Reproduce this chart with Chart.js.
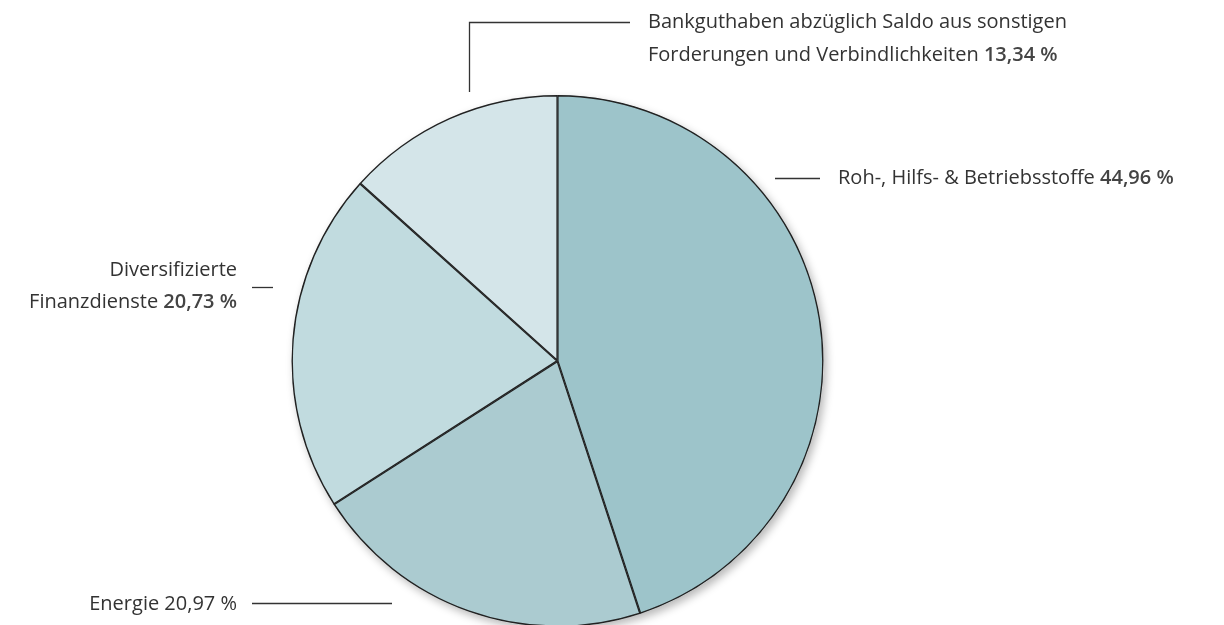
<!DOCTYPE html>
<html>
<head>
<meta charset="utf-8">
<script src="https://cdn.jsdelivr.net/npm/chart.js@4"></script>
<style>
  html, body { margin: 0; padding: 0; background: #fff; overflow: hidden; }
  #wrap { position: relative; width: 1224px; height: 700px; }
</style>
</head>
<body>
<div id="wrap"><canvas id="c" width="1224" height="700"></canvas></div>
<script>
const categories = [
  "Roh-, Hilfs- & Betriebsstoffe",
  "Energie",
  "Diversifizierte Finanzdienste",
  "Bankguthaben abzüglich Saldo aus sonstigen Forderungen und Verbindlichkeiten"
];
const shares = [44.96, 20.97, 20.73, 13.34];
const valueLabels = ["44,96 %", "20,97 %", "20,73 %", "13,34 %"];
const colors = ["#9dc4ca", "#abcbd0", "#c1dbdf", "#d4e5e9"];

const FONT = '"Open Sans", sans-serif';
const SIZE = 20;
const TEXT = "#333333";

// shadow under the pie, drawn from the arc geometry
const shadowPlugin = {
  id: "pie_shadow",
  beforeDatasetsDraw: (chart) => {
    const arc = chart.getDatasetMeta(0).data[0];
    if (!arc) return;
    const ctx = chart.ctx;
    ctx.save();
    ctx.shadowColor = "rgba(0,0,0,0.28)";
    ctx.shadowBlur = 8;
    ctx.shadowOffsetX = 3;
    ctx.shadowOffsetY = 4;
    ctx.fillStyle = "#ffffff";
    ctx.beginPath();
    ctx.arc(arc.x, arc.y, arc.outerRadius, 0, Math.PI * 2);
    ctx.fill();
    ctx.restore();
  },
};

// callout labels with leader lines
function drawMixed(ctx, parts, x, y, align) {
  // parts: [[text, weight, color], ...]
  let total = 0;
  parts.forEach(p => { ctx.font = p[1] + " " + SIZE + "px " + FONT; total += ctx.measureText(p[0]).width; });
  let cx = align === "right" ? x - total : x;
  ctx.textAlign = "left";
  parts.forEach(p => {
    ctx.font = p[1] + " " + SIZE + "px " + FONT;
    ctx.fillStyle = p[2] || TEXT;
    ctx.fillText(p[0], cx, y);
    cx += ctx.measureText(p[0]).width;
  });
}

const labelPlugin = {
  id: "callouts",
  afterDraw: (chart) => {
    const ctx = chart.ctx;
    ctx.save();
    ctx.strokeStyle = "#333333";
    ctx.lineWidth = 1.3;
    ctx.textBaseline = "middle";
    const V = "#444444";

    // Roh
    ctx.beginPath(); ctx.moveTo(775, 178.5); ctx.lineTo(820, 178.5); ctx.stroke();
    drawMixed(ctx, [["Roh-, Hilfs- & Betriebsstoffe ", "400"], [valueLabels[0], "600", V]], 838, 178, "left");

    // Energie
    ctx.beginPath(); ctx.moveTo(252, 603.5); ctx.lineTo(392, 603.5); ctx.stroke();
    drawMixed(ctx, [["Energie " + valueLabels[1], "400"]], 237, 604, "right");

    // Diversifizierte Finanzdienste
    ctx.beginPath(); ctx.moveTo(252, 287.5); ctx.lineTo(273, 287.5); ctx.stroke();
    drawMixed(ctx, [["Diversifizierte", "400"]], 237, 270, "right");
    drawMixed(ctx, [["Finanzdienste ", "400"], [valueLabels[2], "600", V]], 237, 302, "right");

    // Bankguthaben
    ctx.beginPath(); ctx.moveTo(469.5, 92); ctx.lineTo(469.5, 22.5); ctx.lineTo(630, 22.5); ctx.stroke();
    drawMixed(ctx, [["Bankguthaben abzüglich Saldo aus sonstigen", "400"]], 648, 22, "left");
    drawMixed(ctx, [["Forderungen und Verbindlichkeiten ", "400"], [valueLabels[3], "600", V]], 648, 55, "left");

    ctx.restore();
  },
};

new Chart(document.getElementById("c"), {
  type: "pie",
  plugins: [shadowPlugin, labelPlugin],
  data: {
    labels: categories,
    datasets: [{
      data: shares,
      backgroundColor: colors,
      borderColor: "#222222",
      borderWidth: 1.1,
      borderAlign: "inner",
    }],
  },
  options: {
    responsive: false,
    animation: false,
    layout: { padding: { left: 291.5, right: 400.5, top: 95, bottom: 73 } },
    plugins: {
      legend: { display: false },
      tooltip: { enabled: false },
    },
  },
});
</script>
</body>
</html>
